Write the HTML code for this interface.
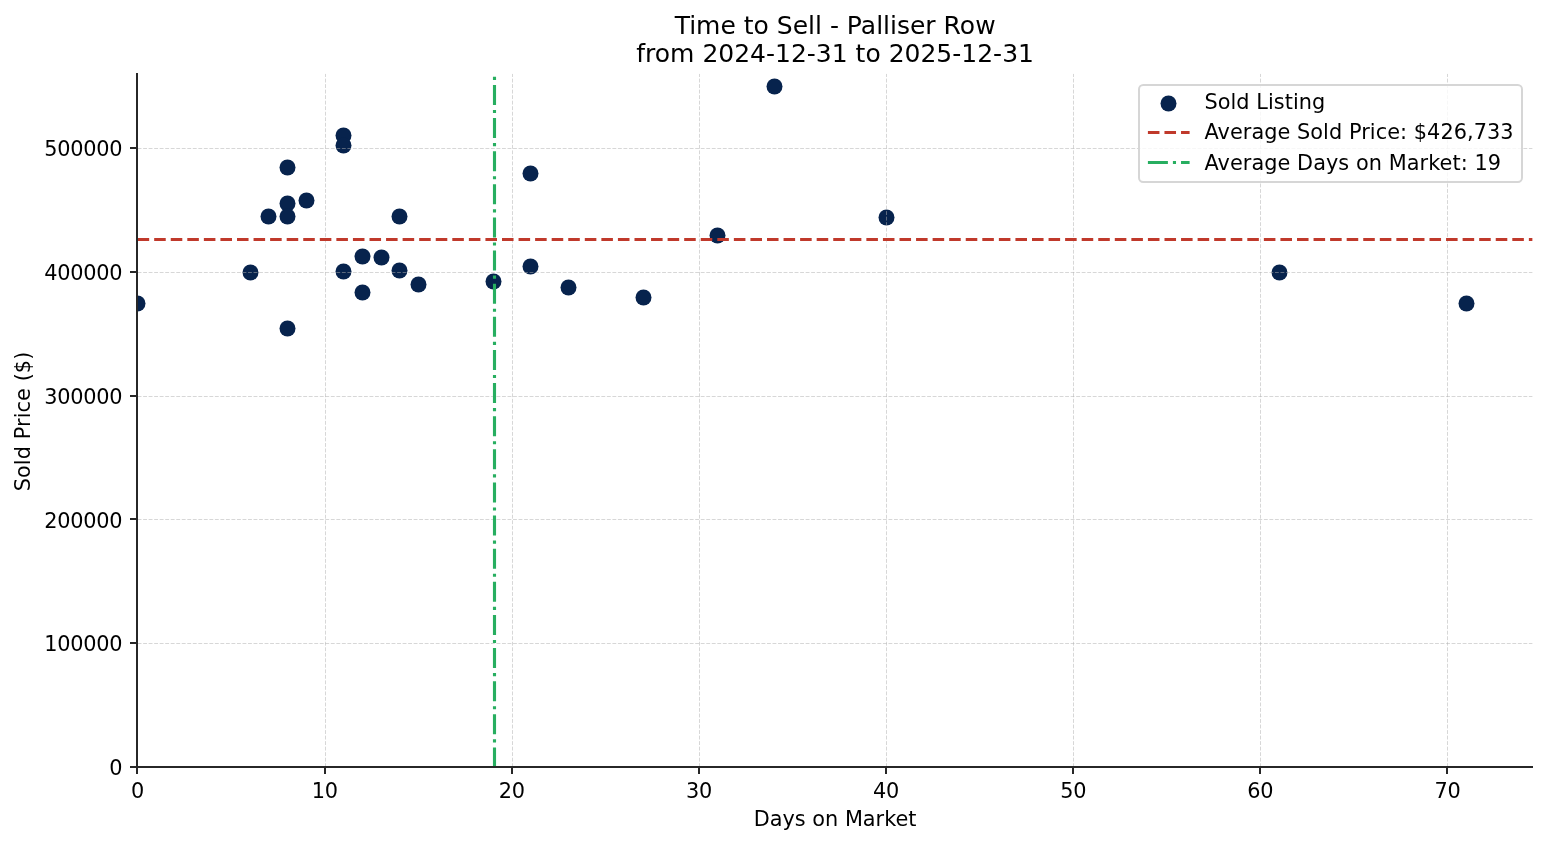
<!DOCTYPE html>
<html lang="en">
<head>
<meta charset="utf-8">
<title>Time to Sell - Palliser Row</title>
<style>
html,body{margin:0;padding:0;background:#fff;}
body{width:1547px;height:845px;overflow:hidden;}
svg{display:block;}
svg text{white-space:pre;}
</style>
</head>
<body>
<svg width="1547" height="845" viewBox="0 0 1547 845" font-family="'DejaVu Sans', 'Liberation Sans', sans-serif" fill="#000">
<rect width="1547" height="845" fill="#fff"/>
<defs><clipPath id="ax"><rect x="137.61" y="73.76" width="1395.00" height="693.00"/></clipPath></defs>
<g clip-path="url(#ax)" fill="#07234d">
<circle cx="137.5" cy="303.5" r="8.00"/>
<circle cx="250.5" cy="272.5" r="8.00"/>
<circle cx="268.5" cy="216.5" r="8.00"/>
<circle cx="287.5" cy="167.5" r="8.00"/>
<circle cx="287.5" cy="203.5" r="8.00"/>
<circle cx="287.5" cy="216.5" r="8.00"/>
<circle cx="287.5" cy="328.5" r="8.00"/>
<circle cx="306.5" cy="200.5" r="8.00"/>
<circle cx="343.5" cy="135.5" r="8.00"/>
<circle cx="343.5" cy="145.5" r="8.00"/>
<circle cx="343.5" cy="271.5" r="8.00"/>
<circle cx="362.5" cy="256.5" r="8.00"/>
<circle cx="362.5" cy="292.5" r="8.00"/>
<circle cx="381.5" cy="257.5" r="8.00"/>
<circle cx="399.5" cy="216.5" r="8.00"/>
<circle cx="399.5" cy="270.5" r="8.00"/>
<circle cx="418.5" cy="284.5" r="8.00"/>
<circle cx="493.5" cy="281.5" r="8.00"/>
<circle cx="530.5" cy="173.5" r="8.00"/>
<circle cx="530.5" cy="266.5" r="8.00"/>
<circle cx="568.5" cy="287.5" r="8.00"/>
<circle cx="643.5" cy="297.5" r="8.00"/>
<circle cx="717.5" cy="235.5" r="8.00"/>
<circle cx="774.5" cy="86.5" r="8.00"/>
<circle cx="886.5" cy="217.5" r="8.00"/>
<circle cx="1279.5" cy="272.5" r="8.00"/>
<circle cx="1466.5" cy="303.5" r="8.00"/>
</g>
<g clip-path="url(#ax)" stroke="#b0b0b0" stroke-opacity="0.5" stroke-width="1" stroke-dasharray="3.854 1.667" fill="none">
<path d="M137.5 767.09V73.76"/>
<path d="M325.5 767.09V73.76"/>
<path d="M512.5 767.09V73.76"/>
<path d="M699.5 767.09V73.76"/>
<path d="M886.5 767.09V73.76"/>
<path d="M1073.5 767.09V73.76"/>
<path d="M1260.5 767.09V73.76"/>
<path d="M1447.5 767.09V73.76"/>
<path d="M137.61 767.5H1532.61"/>
<path d="M137.61 643.5H1532.61"/>
<path d="M137.61 519.5H1532.61"/>
<path d="M137.61 396.5H1532.61"/>
<path d="M137.61 272.5H1532.61"/>
<path d="M137.61 148.5H1532.61"/>
</g>
<g clip-path="url(#ax)" fill="none" stroke-width="3">
<path d="M137.61 239.5H1532.61" stroke="#c0392b" stroke-dasharray="11.5625 5"/>
<path d="M494.5 767.46V73.76" stroke="#27ae60" stroke-width="3.12" stroke-dasharray="20 5 3.125 5"/>
</g>
<g fill="#272727">
<rect x="136" y="73" width="2" height="695"/>
<rect x="136" y="766" width="1397" height="2"/>
<rect x="136" y="766" width="2" height="8"/>
<rect x="324" y="766" width="2" height="8"/>
<rect x="511" y="766" width="2" height="8"/>
<rect x="698" y="766" width="2" height="8"/>
<rect x="885" y="766" width="2" height="8"/>
<rect x="1072" y="766" width="2" height="8"/>
<rect x="1259" y="766" width="2" height="8"/>
<rect x="1446" y="766" width="2" height="8"/>
<rect x="130" y="766" width="8" height="2"/>
<rect x="130" y="642" width="8" height="2"/>
<rect x="130" y="518" width="8" height="2"/>
<rect x="130" y="395" width="8" height="2"/>
<rect x="130" y="271" width="8" height="2"/>
<rect x="130" y="147" width="8" height="2"/>
</g>
<g font-size="20.833px" letter-spacing="-0.22">
<text x="137.61" y="798.00" text-anchor="middle">0</text>
<text x="324.73" y="798.00" text-anchor="middle">10</text>
<text x="511.86" y="798.00" text-anchor="middle">20</text>
<text x="698.98" y="798.00" text-anchor="middle">30</text>
<text x="886.10" y="798.00" text-anchor="middle">40</text>
<text x="1073.22" y="798.00" text-anchor="middle">50</text>
<text x="1260.35" y="798.00" text-anchor="middle">60</text>
<text x="1447.47" y="798.00" text-anchor="middle">70</text>
<text x="122.33" y="775.00" text-anchor="end">0</text>
<text x="122.33" y="651.00" text-anchor="end">100000</text>
<text x="122.33" y="528.00" text-anchor="end">200000</text>
<text x="122.33" y="404.00" text-anchor="end">300000</text>
<text x="122.33" y="280.00" text-anchor="end">400000</text>
<text x="122.33" y="156.00" text-anchor="end">500000</text>
<text x="835.11" y="826.00" text-anchor="middle" letter-spacing="0">Days on Market</text>
<text x="29.83" y="421.46" text-anchor="middle" letter-spacing="0.08" transform="rotate(-90 29.83 421.46)">Sold Price ($)</text>
</g>
<g font-size="25.000px" text-anchor="middle">
<text x="835.11" y="34.00">Time to Sell - Palliser Row</text>
<text x="835.11" y="62.00">from 2024-12-31 to 2025-12-31</text>
</g>
<rect x="1139" y="85" width="383" height="97" rx="4.2" fill="#fff" fill-opacity="0.8" stroke="#d6d6d6" stroke-width="2"/>
<circle cx="1168.5" cy="103.5" r="8.00" fill="#07234d"/>
<path d="M1147.9 132.5H1189.6" stroke="#c0392b" stroke-width="3" stroke-dasharray="11.5625 5" fill="none"/>
<path d="M1147.9 162.5H1189.6" stroke="#27ae60" stroke-width="3" stroke-dasharray="20 5 3.125 5" fill="none"/>
<g font-size="20.833px" letter-spacing="0.06">
<text x="1204.41" y="109.00">Sold Listing</text>
<text x="1204.41" y="139.00">Average Sold Price: $426,733</text>
<text x="1204.41" y="170.00">Average Days on Market: 19</text>
</g>
</svg>
</body>
</html>
